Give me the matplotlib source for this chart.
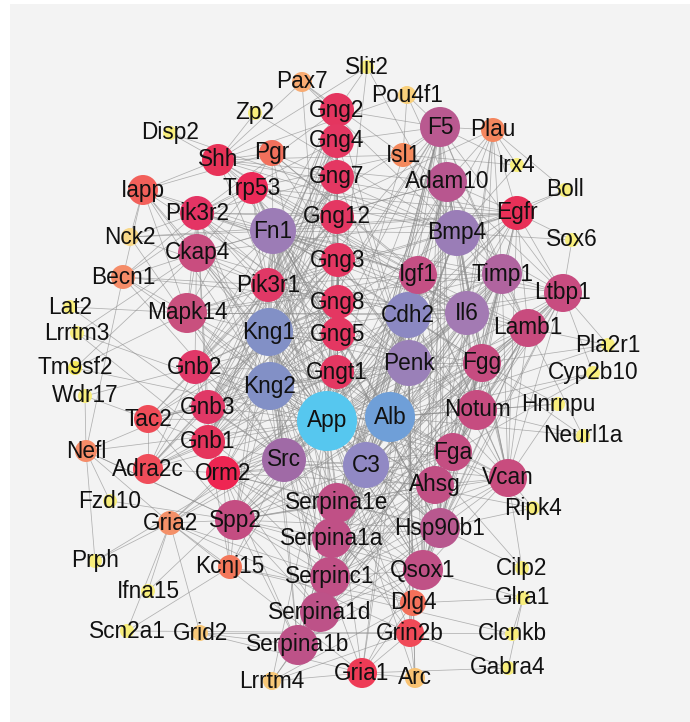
import matplotlib
matplotlib.use("Agg")
import matplotlib.pyplot as plt
from matplotlib.patches import Circle, Rectangle
from matplotlib.collections import LineCollection

# ---------------- data ----------------
names = ["App", "Alb", "C3", "Kng1", "Kng2", "Cdh2", "Penk", "Fn1", "Bmp4", "Il6",
         "Src", "Timp1", "Adam10", "F5", "Igf1", "Ltbp1", "Lamb1", "Fgg", "Notum", "Fga",
         "Vcan", "Ahsg", "Hsp90b1", "Qsox1", "Dlg4", "Grin2b", "Gria1", "Arc",
         "Serpina1e", "Serpina1a", "Serpinc1", "Serpina1d", "Serpina1b", "Spp2", "Kcnj15",
         "Gria2", "Orm2", "Gnb1", "Gnb3", "Gnb2", "Adra2c", "Tac2", "Nefl", "Fzd10", "Prph",
         "Ifna15", "Scn2a1", "Grid2", "Lrrtm4", "Mapk14", "Ckap4", "Pik3r2", "Pik3r1",
         "Trp53", "Shh", "Pgr", "Iapp", "Nck2", "Becn1", "Lat2", "Lrrtm3", "Tm9sf2", "Wdr17",
         "Disp2", "Zp2", "Pax7", "Slit2", "Pou4f1", "Isl1", "Plau", "Irx4", "Boll", "Sox6",
         "Egfr", "Gng2", "Gng4", "Gng7", "Gng12", "Gng3", "Gng8", "Gng5", "Gngt1",
         "Pla2r1", "Cyp2b10", "Hnrnpu", "Neurl1a", "Ripk4", "Cilp2", "Glra1", "Clcnkb", "Gabra4"]

node_x = [327, 390, 366, 269, 270, 408, 409, 273, 457, 467,
          284, 502, 447, 440, 418, 563, 528, 482, 477, 453,
          508, 435, 440, 423, 413, 410, 362, 415,
          337, 332, 330, 320, 298, 235, 230,
          170, 223, 208, 208, 195, 148, 148, 86, 110, 95,
          148, 127, 200, 272, 187, 197, 197, 268,
          252, 218, 272, 143, 130, 123, 70, 77, 75, 85,
          170, 255, 302, 367, 407, 403, 493, 517, 565, 572,
          517, 337, 337, 337, 337, 338, 338, 338, 337,
          608, 593, 558, 583, 533, 522, 523, 512, 508]

node_y = [421, 417, 465, 332, 386, 315, 363, 231, 233, 313,
          460, 274, 182, 127, 275, 293, 328, 363, 410, 452,
          478, 485, 528, 570, 603, 633, 673, 678,
          503, 538, 577, 612, 645, 520, 567,
          523, 473, 442, 407, 367, 469, 419, 451, 501, 561,
          591, 631, 633, 681, 313, 253, 213, 285,
          188, 160, 153, 190, 237, 277, 307, 333, 368, 396,
          133, 113, 82, 67, 95, 155, 130, 165, 190, 240,
          213, 110, 141, 177, 217, 260, 302, 334, 372,
          345, 373, 404, 436, 508, 568, 598, 634, 668]

node_r = [30, 25, 23, 24, 24, 23, 23, 23, 23, 22,
          22, 20, 20, 20, 19, 19, 19, 19, 20, 19,
          19, 19, 20, 20, 13, 14, 15, 10,
          20, 20, 20, 20, 20, 20, 12,
          12, 17, 17, 17, 17, 15, 14, 11, 7, 7,
          7, 7, 8, 9, 20, 19, 17, 17,
          16, 16, 13, 15, 9, 12, 7, 7, 7, 7,
          7, 7, 10, 7, 9, 12, 12, 7, 7, 7,
          17, 17, 17, 17, 17, 17, 17, 17, 17,
          7, 7, 7, 7, 7, 7, 7, 7, 7]

node_color = ["#56c7ef", "#6f9fd8", "#9189c4", "#8290c6", "#8290c6", "#8b88c2", "#9a80b8",
              "#9c7cb6", "#9a7db7", "#a37ab3", "#a06aa6", "#b0649f", "#b8568f", "#b95990",
              "#c44f84", "#c84c80", "#c84b7e", "#c64c80", "#c64c80", "#c44e82", "#c84c7e",
              "#c14f84", "#b8588f", "#c05186", "#f3705a", "#f04a58", "#ee3b56", "#f8c272",
              "#c05086", "#c05086", "#c05086", "#bd5288", "#bd5288", "#c44d82", "#f3775a",
              "#f49068", "#ee2552", "#e5345c", "#e03866", "#e03868", "#f04d5a", "#ef4c58",
              "#f58c68", "#f8ee7c", "#f8ee7c", "#f8ee7c", "#f8ee7c", "#f8c87a", "#f8c878",
              "#c9507e", "#c94d7f", "#e43464", "#e03866", "#eb2a58", "#e83358", "#f2705c",
              "#f2605a", "#f9d888", "#f58c68", "#f8ee7c", "#f8ee7c", "#f3e85a", "#f8ee7c",
              "#f8ee7c", "#f8ee7c", "#f8ab72", "#f8ee7c", "#f9d07c", "#f48a5e", "#f4865e",
              "#f8ee7c", "#f8ee7c", "#f8ee7c", "#e83058", "#e4355f", "#e43762", "#e43762",
              "#e43762", "#e43762", "#e43762", "#e43762", "#e43762",
              "#f8ee7c", "#f8ee7c", "#f8ee7c", "#f8ee7c", "#f8ee7c", "#f8ee7c", "#f8ee7c",
              "#f8ee7c", "#f8ee7c"]

adjacency = """
App: Alb C3 Kng1 Kng2 Fn1 Src Il6 Bmp4 Cdh2 Penk Igf1 Timp1 Adam10 F5 Fgg Fga Ahsg Notum Serpina1e Serpina1a Serpinc1 Serpina1d Serpina1b Spp2 Orm2 Hsp90b1 Qsox1 Dlg4 Grin2b Gria1 Gria2 Egfr Mapk14 Ckap4 Trp53 Shh Iapp Becn1 Nefl Gng2 Gng3 Gng4 Gng5 Gng7 Gng8 Gng12 Gngt1 Gnb1 Gnb2 Gnb3 Ltbp1 Lamb1 Vcan Pik3r1 Pgr Plau Isl1 Tac2 Adra2c Kcnj15 Arc Lrrtm4 Lrrtm3 Tm9sf2 Prph Ifna15 Pax7 Slit2
Alb: C3 Kng1 Kng2 Fn1 Src Il6 Cdh2 Penk Igf1 Timp1 F5 Fgg Fga Ahsg Notum Serpina1e Serpina1a Serpinc1 Serpina1d Serpina1b Spp2 Orm2 Hsp90b1 Qsox1 Ltbp1 Lamb1 Vcan Mapk14 Ckap4 Egfr Trp53 Bmp4 Adam10 Plau Hnrnpu Cyp2b10 Pla2r1 Ripk4 Cilp2 Neurl1a
C3: Kng1 Kng2 Fn1 Src Il6 Fgg Fga Ahsg Serpina1e Serpina1a Serpinc1 Serpina1d Serpina1b Spp2 Orm2 Hsp90b1 Qsox1 Timp1 Igf1 F5 Notum Vcan Ltbp1 Lamb1 Ckap4 Cdh2 Penk Gng5 Gngt1 Mapk14 Bmp4 Adam10
Kng1: Kng2 Fn1 Fgg Fga Ahsg Serpina1e Serpina1a Serpinc1 Serpina1d Serpina1b Spp2 Orm2 F5 Hsp90b1 Qsox1 Timp1 Igf1 Gng2 Gng3 Gng4 Gng5 Gng7 Gng8 Gng12 Gngt1 Gnb1 Gnb2 Gnb3 Pik3r1 Penk Cdh2 Src Mapk14 Ckap4 Tac2 Adra2c
Kng2: Fn1 Fgg Fga Ahsg Serpina1e Serpina1a Serpinc1 Serpina1d Serpina1b Spp2 Orm2 F5 Hsp90b1 Qsox1 Timp1 Gng2 Gng3 Gng4 Gng5 Gng7 Gng8 Gng12 Gngt1 Gnb1 Gnb2 Gnb3 Pik3r2 Penk Src Tac2 Adra2c Iapp
Fn1: Src Il6 Bmp4 Cdh2 Igf1 Timp1 Adam10 F5 Fgg Fga Ahsg Serpina1e Serpina1a Serpinc1 Ltbp1 Lamb1 Vcan Egfr Mapk14 Ckap4 Trp53 Pik3r1 Pik3r2 Spp2 Hsp90b1 Qsox1 Plau Shh Nck2 Pgr
Src: Egfr Pik3r1 Pik3r2 Mapk14 Trp53 Il6 Igf1 Cdh2 Dlg4 Grin2b Gria1 Gria2 Kcnj15 Adam10 Bmp4 Penk Gnb1 Gnb2 Gnb3 Becn1 Nck2 Orm2 Spp2 Hsp90b1 Lat2 Ripk4
Il6: Igf1 Timp1 Bmp4 Egfr Mapk14 Trp53 Shh Pik3r1 Fgg Fga Ahsg Serpina1a Vcan Lamb1 Ltbp1 Adam10 Cdh2 Penk Notum Orm2 Spp2 Iapp Pgr Plau Becn1
Bmp4: Shh Igf1 Timp1 Egfr Adam10 Notum Isl1 Pax7 Trp53 Ltbp1 Lamb1 Vcan Cdh2 Penk Irx4 Sox6 Boll Fgg Disp2 Slit2 Zp2 Pgr Tac2
Cdh2: Adam10 Egfr Igf1 Timp1 Penk Serpina1e Serpina1a Lamb1 Vcan Dlg4 Grin2b Gria1 Gria2 Notum Ltbp1 Fgg Mapk14 Ckap4 Qsox1 Nefl Neurl1a
Penk: Gng2 Gng3 Gng4 Gng5 Gng7 Gng8 Gng12 Gngt1 Tac2 Adra2c Pgr Igf1 Timp1 Serpina1a Serpina1e Notum Fgg Gria1 Grin2b Dlg4 Arc Iapp
Igf1: Timp1 Egfr Pik3r1 Pik3r2 Trp53 Mapk14 Adam10 Fgg Fga Ltbp1 Lamb1 Vcan Notum Serpina1e Serpina1a Serpinc1 Hsp90b1 Qsox1 Iapp Pgr Shh
Timp1: Adam10 Fgg Fga Ahsg Serpina1e Serpina1a Serpinc1 Serpina1d Serpina1b Spp2 Orm2 Hsp90b1 Qsox1 Ltbp1 Lamb1 Vcan Notum Egfr Mapk14 F5 Plau
Adam10: Egfr Notum F5 Ltbp1 Lamb1 Vcan Fgg Serpina1e Hsp90b1 Qsox1 Isl1 Plau Shh Ckap4 Pou4f1
F5: Fgg Fga Ahsg Serpina1e Serpina1a Serpinc1 Serpina1d Serpina1b Spp2 Orm2 Hsp90b1 Qsox1 Plau Lamb1 Ltbp1 Gng4 Gng2 Isl1 Pou4f1 Irx4
Egfr: Pik3r1 Pik3r2 Mapk14 Trp53 Shh Plau Ltbp1 Lamb1 Vcan Hsp90b1 Nck2 Ckap4 Boll Sox6 Notum
Fgg: Fga Ahsg Serpina1e Serpina1a Serpinc1 Serpina1d Serpina1b Spp2 Orm2 Hsp90b1 Qsox1 Ltbp1 Lamb1 Vcan Notum Plau Hnrnpu Pla2r1
Fga: Ahsg Serpina1e Serpina1a Serpinc1 Serpina1d Serpina1b Spp2 Orm2 Hsp90b1 Qsox1 Ltbp1 Lamb1 Vcan Notum Plau Cyp2b10
Ahsg: Serpina1e Serpina1a Serpinc1 Serpina1d Serpina1b Spp2 Orm2 Hsp90b1 Qsox1 Vcan Notum Lamb1
Notum: Vcan Ltbp1 Lamb1 Hsp90b1 Qsox1 Serpina1e Serpina1a Shh Hnrnpu Neurl1a Cyp2b10
Vcan: Ltbp1 Lamb1 Hsp90b1 Qsox1 Serpina1a Serpinc1 Spp2 Ripk4 Cilp2 Hnrnpu
Ltbp1: Lamb1 Hsp90b1 Qsox1 Serpina1e Serpinc1 Pla2r1 Sox6 Cyp2b10
Lamb1: Hsp90b1 Qsox1 Serpina1a Serpinc1 Pla2r1 Neurl1a
Hsp90b1: Qsox1 Serpina1e Serpina1a Serpinc1 Serpina1d Serpina1b Spp2 Orm2 Trp53 Cilp2 Ripk4 Gria1
Qsox1: Serpina1e Serpina1a Serpinc1 Serpina1d Serpina1b Spp2 Orm2 Dlg4 Glra1
Serpina1e: Serpina1a Serpinc1 Serpina1d Serpina1b Spp2 Orm2
Serpina1a: Serpinc1 Serpina1d Serpina1b Spp2 Orm2
Serpinc1: Serpina1d Serpina1b Spp2 Orm2
Serpina1d: Serpina1b Spp2 Orm2 Lrrtm4
Serpina1b: Spp2 Orm2 Lrrtm4 Grid2
Spp2: Orm2 Gria2 Kcnj15 Tac2 Nefl Fzd10
Orm2: Gnb1 Gnb3 Adra2c Gria2 Kcnj15
Gng2: Gng4 Gng7 Gng12 Gng3 Gng8 Gng5 Gngt1 Gnb1 Gnb2 Gnb3 Pik3r1 Pik3r2 Pax7 Slit2
Gng4: Gng7 Gng12 Gng3 Gng8 Gng5 Gngt1 Gnb1 Gnb2 Gnb3 Pik3r1 Pik3r2
Gng7: Gng12 Gng3 Gng8 Gng5 Gngt1 Gnb1 Gnb2 Gnb3 Pik3r1 Pik3r2 Adra2c
Gng12: Gng3 Gng8 Gng5 Gngt1 Gnb1 Gnb2 Gnb3 Pik3r1 Pik3r2 Tac2
Gng3: Gng8 Gng5 Gngt1 Gnb1 Gnb2 Gnb3 Pik3r1 Pik3r2 Adra2c
Gng8: Gng5 Gngt1 Gnb1 Gnb2 Gnb3 Pik3r1 Pik3r2
Gng5: Gngt1 Gnb1 Gnb2 Gnb3 Pik3r1 Pik3r2
Gngt1: Gnb1 Gnb2 Gnb3 Pik3r1 Pik3r2 Adra2c
Gnb1: Gnb2 Gnb3 Pik3r1 Pik3r2 Adra2c Tac2 Kcnj15
Gnb2: Gnb3 Pik3r1 Pik3r2 Adra2c Tac2 Wdr17
Gnb3: Pik3r1 Pik3r2 Adra2c Tac2
Pik3r1: Pik3r2 Mapk14 Trp53 Nck2 Becn1 Ckap4
Pik3r2: Mapk14 Trp53 Nck2 Becn1
Trp53: Mapk14 Shh Pgr Isl1 Becn1 Hsp90b1 Ckap4
Shh: Pax7 Isl1 Disp2 Zp2 Pgr Slit2 Pou4f1 Iapp
Mapk14: Ckap4 Becn1 Iapp Lat2 Tm9sf2
Ckap4: Becn1 Iapp Lrrtm3 Tm9sf2
Dlg4: Grin2b Gria1 Gria2 Arc Kcnj15 Lrrtm4 Lrrtm3 Nefl Glra1
Grin2b: Gria1 Gria2 Arc Lrrtm4 Grid2 Clcnkb Gabra4 Scn2a1
Gria1: Gria2 Arc Lrrtm4 Grid2 Gabra4
Gria2: Grid2 Nefl Prph Ifna15 Scn2a1 Kcnj15
Nefl: Prph Fzd10 Wdr17 Becn1
Kcnj15: Scn2a1 Clcnkb
Iapp: Pgr Becn1 Nck2
Isl1: Pax7 Pou4f1 Irx4
Plau: Irx4 Boll
Tac2: Adra2c Wdr17
Glra1: Gabra4 Clcnkb
"""

# ---------------- figure ----------------
W, H = 690, 722
fig = plt.figure(figsize=(W / 100, H / 100), dpi=100)
ax = fig.add_axes([0, 0, 1, 1])
ax.set_xlim(0, W)
ax.set_ylim(H, 0)
ax.axis("off")
fig.patch.set_facecolor("white")

ax.add_patch(Rectangle((10, 4), W - 10, H - 4, facecolor="#f3f3f3",
                       edgecolor="none", zorder=0))

pos = {n: (x, y) for n, x, y in zip(names, node_x, node_y)}
segs = []
for line in adjacency.strip().splitlines():
    src, rest = line.split(":")
    for dst in rest.split():
        segs.append([pos[src.strip()], pos[dst]])

ax.add_collection(LineCollection(segs, colors="#8c8c8c", linewidths=0.55,
                                 alpha=0.65, zorder=1))

for n, x, y, r, c in zip(names, node_x, node_y, node_r, node_color):
    ax.add_patch(Circle((x, y), r, facecolor=c, edgecolor="none", zorder=2))
    ax.text(x, y, n, ha="center", va="center", fontsize=16.3,
            family="Liberation Sans", color="#111111", zorder=3)

fig.savefig("out.png", dpi=100)
